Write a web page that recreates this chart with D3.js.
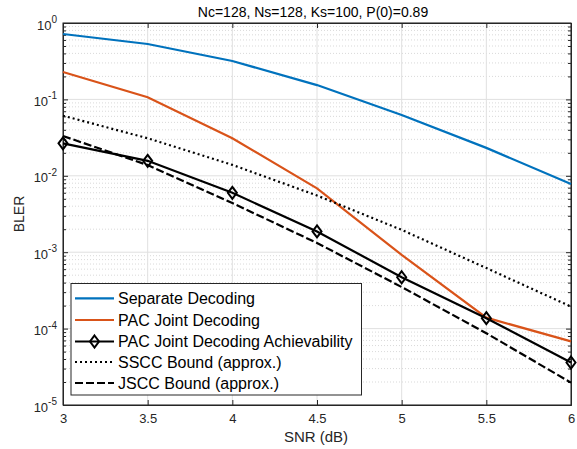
<!DOCTYPE html>
<html><head><meta charset="utf-8">
<script src="https://cdn.jsdelivr.net/npm/d3@7"></script>
<style>body{margin:0;background:#fff;} svg{display:block;}</style>
</head><body>
<svg id="c" width="577" height="449"></svg>
<script>
const snr = [3, 3.5, 4, 4.5, 5, 5.5, 6];
const separate = [0.718, 0.531, 0.318, 0.154, 0.0625, 0.0232, 0.0078];
const pacJoint = [0.228, 0.1065, 0.0310, 0.00686, 9.2e-4, 1.39e-4, 6.8e-5];
const pacAchiev = [0.0266, 0.0157, 0.00599, 0.00187, 4.7e-4, 1.37e-4, 3.6e-5];
const ssccBound = [0.0612, 0.0310, 0.0139, 0.00552, 0.00196, 6.2e-4, 1.94e-4];
const jsccBound = [0.0332, 0.0138, 0.0044, 0.00132, 3.5e-4, 8.7e-5, 1.96e-5];
const xTicks = [3, 3.5, 4, 4.5, 5, 5.5, 6];
const yExps = [0, -1, -2, -3, -4, -5];
const legendLabels = ["Separate Decoding", "PAC Joint Decoding", "PAC Joint Decoding Achievability", "SSCC Bound (approx.)", "JSCC Bound (approx.)"];
const titleText = "Nc=128, Ns=128, Ks=100, P(0)=0.89";

const svg = d3.select("#c");
const L = 63, R = 571, T = 23, B = 405;
const x = d3.scaleLinear().domain([3, 6]).range([L, R]);
const y = d3.scaleLog().domain([1e-5, 1]).range([B, T]);
const font = "'Liberation Sans', Arial, Helvetica, sans-serif";
const axisCol = "#262626";

// grid
const g = svg.append("g");
const minors = [];
for (let e = -5; e < 0; e++) for (let m = 2; m <= 9; m++) minors.push(m * Math.pow(10, e));
g.selectAll(".ymin").data(minors).enter().append("line")
  .attr("x1", L).attr("x2", R).attr("y1", d => y(d)).attr("y2", d => y(d))
  .attr("stroke", "#cfcfcf").attr("stroke-width", 0.8).attr("stroke-dasharray", "1,2");
g.selectAll(".ymaj").data(yExps).enter().append("line")
  .attr("x1", L).attr("x2", R).attr("y1", d => y(Math.pow(10, d))).attr("y2", d => y(Math.pow(10, d)))
  .attr("stroke", "#e0e0e0").attr("stroke-width", 1);
g.selectAll(".xmaj").data(xTicks).enter().append("line")
  .attr("y1", T).attr("y2", B).attr("x1", d => x(d)).attr("x2", d => x(d))
  .attr("stroke", "#e0e0e0").attr("stroke-width", 1);

// axes with inward ticks
const ax = svg.append("g").attr("transform", `translate(0,${B})`)
  .call(d3.axisBottom(x).tickValues(xTicks).tickSizeInner(-5).tickSizeOuter(0).tickPadding(9).tickFormat(d3.format("")));
const axT = svg.append("g").attr("transform", `translate(0,${T})`)
  .call(d3.axisTop(x).tickValues(xTicks).tickSizeInner(-5).tickSizeOuter(0).tickFormat(""));
const ayL = svg.append("g").attr("transform", `translate(${L},0)`)
  .call(d3.axisLeft(y).tickValues(yExps.map(e => Math.pow(10, e))).tickSizeInner(-5).tickSizeOuter(0).tickFormat(""));
const ayLm = svg.append("g").attr("transform", `translate(${L},0)`)
  .call(d3.axisLeft(y).tickValues(minors).tickSizeInner(-3).tickSizeOuter(0).tickFormat(""));
const ayR = svg.append("g").attr("transform", `translate(${R},0)`)
  .call(d3.axisRight(y).tickValues(yExps.map(e => Math.pow(10, e))).tickSizeInner(-5).tickSizeOuter(0).tickFormat(""));
const ayRm = svg.append("g").attr("transform", `translate(${R},0)`)
  .call(d3.axisRight(y).tickValues(minors).tickSizeInner(-3).tickSizeOuter(0).tickFormat(""));
[ax, axT, ayL, ayLm, ayR, ayRm].forEach(a => {
  a.select(".domain").attr("stroke", axisCol);
  a.selectAll(".tick line").attr("stroke", axisCol);
});
ax.selectAll(".tick text").attr("font-family", font).attr("font-size", 13).attr("fill", axisCol)
  .attr("y", 0).attr("dy", 0).attr("transform", "translate(0,18)");

// y tick labels 10^e
yExps.forEach(e => {
  const t = svg.append("text").attr("x", 57).attr("y", y(Math.pow(10, e)) + 6.5)
    .attr("text-anchor", "end").attr("font-family", font).attr("font-size", 13).attr("fill", axisCol);
  t.append("tspan").text("10");
  t.append("tspan").attr("dy", -6.5).attr("font-size", 10).text(String(e));
});

// box
svg.append("rect").attr("x", L).attr("y", T).attr("width", R - L).attr("height", B - T)
  .attr("fill", "none").attr("stroke", axisCol).attr("stroke-width", 1);

// lines
const line = d3.line().x((d, i) => x(snr[i])).y(d => y(d));
const series = [
  {data: separate, color: "#0072BD", dash: null},
  {data: pacJoint, color: "#D95319", dash: null},
  {data: pacAchiev, color: "#000", dash: null, marker: true},
  {data: ssccBound, color: "#000", dash: "2,3"},
  {data: jsccBound, color: "#000", dash: "8,3"}
];
const plot = svg.append("g");
series.forEach(s => {
  plot.append("path").attr("d", line(s.data)).attr("fill", "none")
    .attr("stroke", s.color).attr("stroke-width", 2.2)
    .attr("stroke-dasharray", s.dash);
});
const diamond = (cx, cy, w, h) => `M${cx},${cy - h}L${cx + w},${cy}L${cx},${cy + h}L${cx - w},${cy}Z`;
plot.selectAll(".mk").data(pacAchiev).enter().append("path")
  .attr("d", (d, i) => diamond(x(snr[i]), y(d), 4.5, 6))
  .attr("fill", "none").attr("stroke", "#000").attr("stroke-width", 2);

// legend
const lg = svg.append("g");
lg.append("rect").attr("x", 71).attr("y", 283.5).attr("width", 290.5).attr("height", 111.5)
  .attr("fill", "#fff").attr("stroke", axisCol).attr("stroke-width", 1);
const rowY = [298.3, 320, 341.5, 362, 383];
legendLabels.forEach((lab, i) => {
  const s = series[i];
  lg.append("line").attr("x1", 75).attr("x2", 114).attr("y1", rowY[i]).attr("y2", rowY[i])
    .attr("stroke", s.color).attr("stroke-width", 2.2).attr("stroke-dasharray", s.dash);
  if (s.marker) lg.append("path").attr("d", diamond(94.5, rowY[i], 4.5, 6))
    .attr("fill", "none").attr("stroke", "#000").attr("stroke-width", 2);
  lg.append("text").attr("x", 118).attr("y", rowY[i] + 5.5).attr("font-family", font)
    .attr("font-size", 16).attr("fill", "#000").text(lab);
});

// title & labels
svg.append("text").attr("x", 313).attr("y", 17).attr("text-anchor", "middle")
  .attr("font-family", font).attr("font-size", 14).attr("fill", "#000").text(titleText);
svg.append("text").attr("x", 316).attr("y", 442).attr("text-anchor", "middle")
  .attr("font-family", font).attr("font-size", 15).attr("fill", axisCol).text("SNR (dB)");
svg.append("text").attr("transform", `translate(24,214) rotate(-90)`).attr("text-anchor", "middle")
  .attr("font-family", font).attr("font-size", 14).attr("fill", axisCol).text("BLER");
</script>
</body></html>
